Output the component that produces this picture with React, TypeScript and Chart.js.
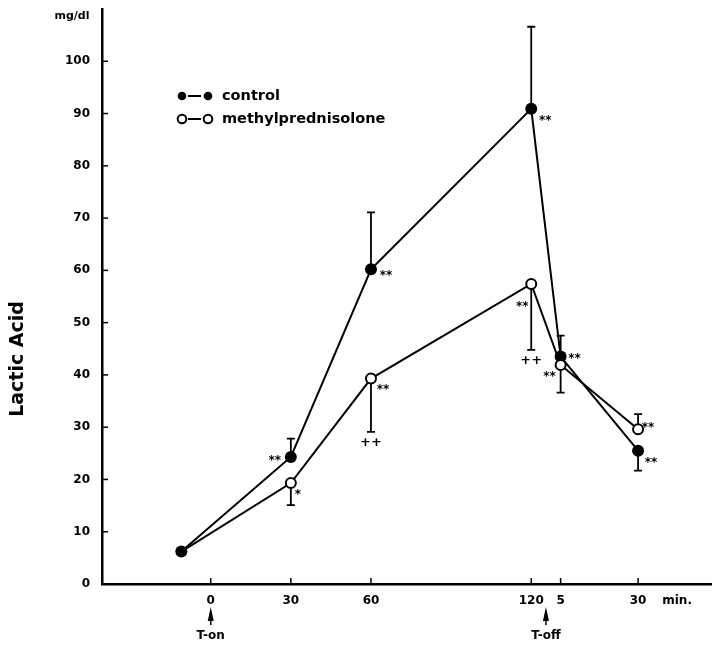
import React, { useEffect, useRef } from "react";
import { Chart, registerables } from "chart.js";

Chart.register(...registerables);

// ---- data ----
const timePoints = [-11, 30, 60, 120, 131, 160]; // minutes on a broken axis (after T-off: 120 + offset)
const xTickValues = [0, 30, 60, 120, 131, 160];
const xTickLabels = ["0", "30", "60", "120", "5", "30"];
const unitTickValue = 174.6;
const unitTickLabel = "min.";
const yTickValues = [0, 10, 20, 30, 40, 50, 60, 70, 80, 90, 100];

const controlValues = [6.2, 24.3, 60.2, 90.9, 43.5, 25.5];
const controlErrEnd = [null, 27.8, 71.1, 106.6, 47.5, 21.7];
const controlMarks = ["", "**", "**", "**", "**", "**"];

const mpValues = [6.2, 19.3, 39.3, 57.4, 41.9, 29.6];
const mpErrEnd = [null, 15.1, 29.1, 44.8, 36.6, 32.5];
const mpMarks = ["", "*", "**", "**", "**", "**"];
const mpCrossMarks = ["", "", "++", "++", "", ""];

const seriesNames = ["control", "methylprednisolone"];
const yTitle = "Lactic Acid";
const yUnit = "mg/dl";
const tOnLabel = "T-on";
const tOffLabel = "T-off";
const tOnValue = 0;
const tOffValue = 125.5;

// ---- styles ----
const FONT = "'DejaVu Sans', sans-serif";
const controlMarkOffsets = [[0, 0], [-16, 0], [15, 3], [14, 8], [14, -2], [13, 8]];
const mpMarkOffsets = [[0, 0], [7, 8], [12, 7], [-9, 19], [-11, 8], [10, -5]];

const resetPad = (s: any) => {
  s.paddingLeft = 0;
  s.paddingRight = 0;
  s.paddingTop = 0;
  s.paddingBottom = 0;
};

const overlay = {
  id: "overlay",
  beforeDatasetsDraw(chart: any) {
    const { ctx } = chart;
    const xs = chart.scales.x;
    const ys = chart.scales.y;
    ctx.save();
    ctx.strokeStyle = "#000";
    ctx.lineWidth = 1.8;
    const drawBars = (vals: number[], ends: (number | null)[]) => {
      vals.forEach((v, i) => {
        const e = ends[i];
        if (e == null) return;
        const px = xs.getPixelForValue(timePoints[i]);
        const py = ys.getPixelForValue(v);
        const pe = ys.getPixelForValue(e);
        ctx.beginPath();
        ctx.moveTo(px, py);
        ctx.lineTo(px, pe);
        ctx.moveTo(px - 4, pe);
        ctx.lineTo(px + 4, pe);
        ctx.stroke();
      });
    };
    drawBars(controlValues, controlErrEnd);
    drawBars(mpValues, mpErrEnd);
    ctx.restore();
  },
  afterDraw(chart: any) {
    const { ctx, chartArea } = chart;
    const xs = chart.scales.x;
    const ys = chart.scales.y;
    ctx.save();
    ctx.strokeStyle = "#000";
    ctx.fillStyle = "#000";
    // inner tick marks
    ctx.lineWidth = 1.5;
    xTickValues.forEach((v) => {
      const px = xs.getPixelForValue(v);
      ctx.beginPath();
      ctx.moveTo(px, chartArea.bottom);
      ctx.lineTo(px, chartArea.bottom - 6);
      ctx.stroke();
    });
    yTickValues.forEach((v) => {
      const py = ys.getPixelForValue(v);
      ctx.beginPath();
      ctx.moveTo(chartArea.left, py);
      ctx.lineTo(chartArea.left + 6, py);
      ctx.stroke();
    });

    // significance marks
    ctx.font = `bold 12px ${FONT}`;
    ctx.textAlign = "center";
    ctx.textBaseline = "alphabetic";
    const drawMarks = (vals: number[], marks: string[], offs: number[][]) => {
      vals.forEach((v, i) => {
        if (!marks[i]) return;
        const px = xs.getPixelForValue(timePoints[i]) + offs[i][0];
        const py = ys.getPixelForValue(v) + offs[i][1];
        ctx.fillText(marks[i], px, py + 7);
      });
    };
    drawMarks(controlValues, controlMarks, controlMarkOffsets);
    drawMarks(mpValues, mpMarks, mpMarkOffsets);
    ctx.font = `bold 13px ${FONT}`;
    ctx.textBaseline = "middle";
    mpCrossMarks.forEach((m, i) => {
      if (!m) return;
      const e = mpErrEnd[i] as number;
      const px = xs.getPixelForValue(timePoints[i]);
      const py = ys.getPixelForValue(e) + 11;
      ctx.fillText(m, px, py);
    });

    // legend
    const lx = 182;
    const rows = [96, 119];
    rows.forEach((ry, k) => {
      ctx.lineWidth = 2;
      ctx.beginPath();
      ctx.moveTo(lx + 6, ry);
      ctx.lineTo(lx + 19, ry);
      ctx.stroke();
      [lx, lx + 26].forEach((cx) => {
        ctx.beginPath();
        ctx.arc(cx, ry, 4.3, 0, Math.PI * 2);
        if (k === 0) {
          ctx.fillStyle = "#000";
          ctx.fill();
        } else {
          ctx.fillStyle = "#fff";
          ctx.fill();
          ctx.lineWidth = 2;
          ctx.stroke();
        }
      });
      ctx.fillStyle = "#000";
      ctx.font = `bold 14.5px ${FONT}`;
      ctx.textAlign = "left";
      ctx.textBaseline = "middle";
      ctx.fillText(seriesNames[k], lx + 40, ry);
    });

    // unit label
    ctx.font = `bold 11px ${FONT}`;
    ctx.textAlign = "center";
    ctx.textBaseline = "middle";
    ctx.fillText(yUnit, chartArea.left - 30, 16);

    // y title
    ctx.save();
    ctx.translate(18, 359);
    ctx.rotate(-Math.PI / 2);
    ctx.font = `bold 19px ${FONT}`;
    ctx.textAlign = "center";
    ctx.textBaseline = "middle";
    ctx.fillText(yTitle, 0, 0);
    ctx.restore();

    // T-on / T-off arrows
    const drawArrow = (v: number, label: string) => {
      const px = xs.getPixelForValue(v);
      ctx.beginPath();
      ctx.moveTo(px, 607);
      ctx.lineTo(px - 3, 621);
      ctx.lineTo(px + 3, 621);
      ctx.closePath();
      ctx.fill();
      ctx.lineWidth = 1.5;
      ctx.beginPath();
      ctx.moveTo(px, 615);
      ctx.lineTo(px, 625);
      ctx.stroke();
      ctx.font = `bold 12px ${FONT}`;
      ctx.textAlign = "center";
      ctx.textBaseline = "middle";
      ctx.fillText(label, px, 636);
    };
    drawArrow(tOnValue, tOnLabel);
    drawArrow(tOffValue, tOffLabel);
    ctx.restore();
  },
};

export default function App() {
  const ref = useRef<HTMLCanvasElement | null>(null);
  useEffect(() => {
    if (!ref.current) return;
    const allXTicks = [...xTickValues, unitTickValue];
    const allXLabels = [...xTickLabels, unitTickLabel];
    const chart = new Chart(ref.current, {
      type: "line",
      data: {
        datasets: [
          {
            label: seriesNames[1],
            data: mpValues.map((v, i) => ({ x: timePoints[i], y: v })),
            borderColor: "#000",
            borderWidth: 2,
            pointRadius: mpValues.map((_, i) => (i === 0 ? 0 : 5)),
            pointBackgroundColor: "#fff",
            pointBorderColor: "#000",
            pointBorderWidth: 2,
            tension: 0,
            clip: false,
          },
          {
            label: seriesNames[0],
            data: controlValues.map((v, i) => ({ x: timePoints[i], y: v })),
            borderColor: "#000",
            borderWidth: 2,
            pointRadius: 6,
            pointBackgroundColor: "#000",
            pointBorderColor: "#000",
            pointBorderWidth: 0,
            tension: 0,
            clip: false,
          },
        ],
      },
      options: {
        responsive: false,
        animation: false,
        layout: { autoPadding: false, padding: { top: 9, right: 1, left: 0, bottom: 0 } },
        plugins: { legend: { display: false }, tooltip: { enabled: false } },
        scales: {
          x: {
            type: "linear",
            min: -40.7,
            max: 187.3,
            afterBuildTicks: (s: any) => {
              s.ticks = allXTicks.map((v) => ({ value: v }));
            },
            afterFit: (s: any) => {
              s.height = 65;
              resetPad(s);
            },
            ticks: {
              autoSkip: false,
              maxRotation: 0,
              padding: 10,
              color: "#000",
              font: { family: FONT, weight: "bold", size: 12 },
              callback: (_v: any, i: number) => allXLabels[i],
            },
            grid: { display: false, drawTicks: false },
            border: { display: true, color: "#000", width: 2.5 },
          },
          y: {
            min: 0,
            max: 110,
            afterBuildTicks: (s: any) => {
              s.ticks = yTickValues.map((v) => ({ value: v }));
            },
            afterFit: (s: any) => {
              s.width = 102;
              resetPad(s);
            },
            ticks: {
              padding: 12,
              color: "#000",
              font: { family: FONT, weight: "bold", size: 12 },
            },
            grid: { display: false, drawTicks: false },
            border: { display: true, color: "#000", width: 2.5 },
          },
        },
      },
      plugins: [overlay],
    } as any);
    return () => chart.destroy();
  }, []);
  return (
    <div style={{ position: "fixed", left: 0, top: 0, width: 712, height: 649, background: "#fff" }}>
      <canvas ref={ref} width={712} height={649} style={{ display: "block" }} />
    </div>
  );
}
